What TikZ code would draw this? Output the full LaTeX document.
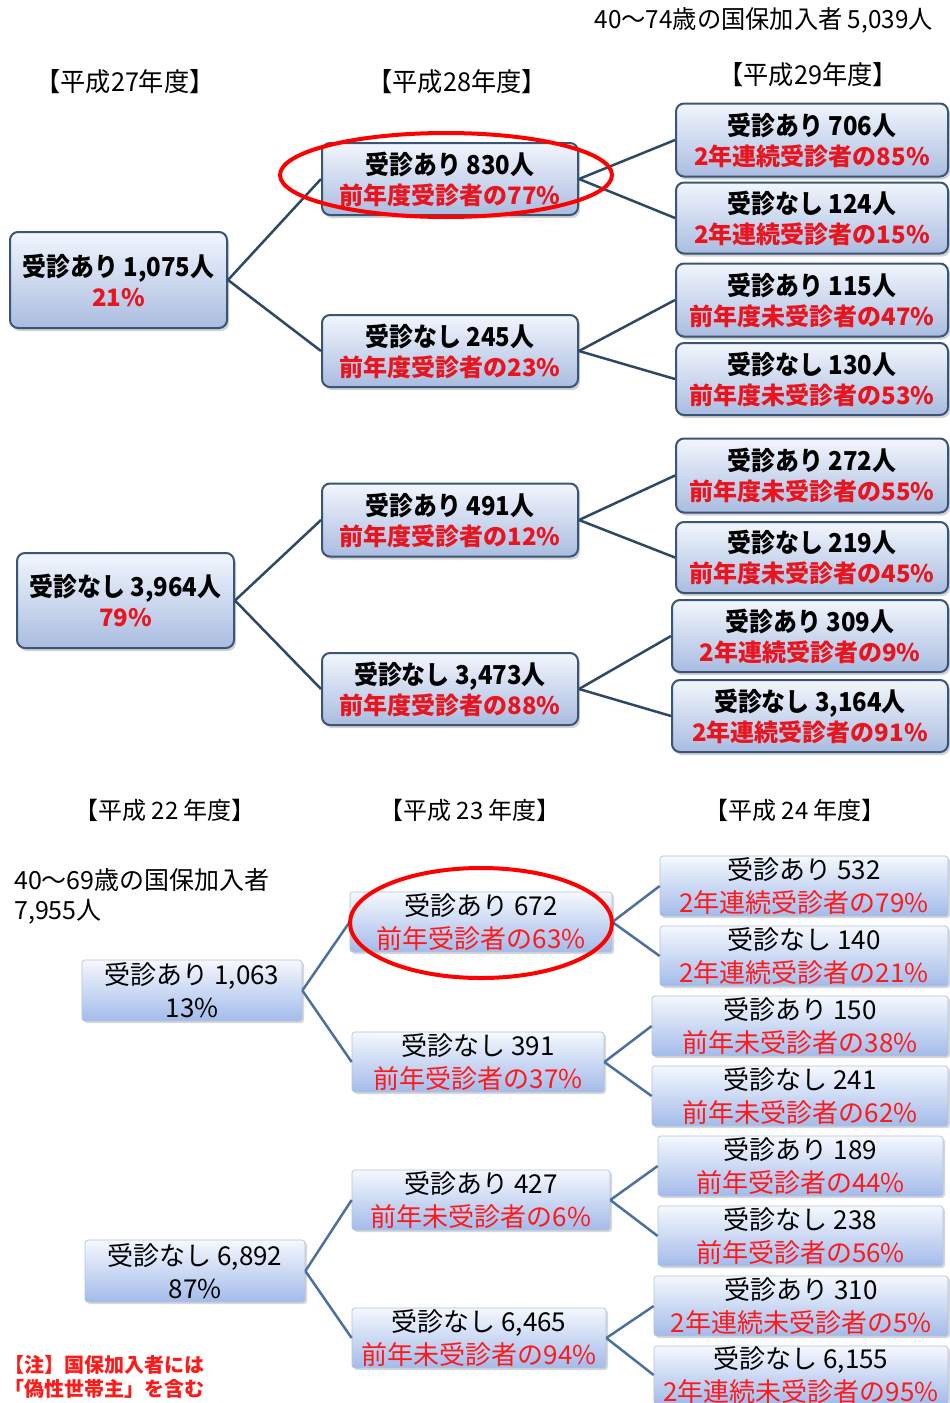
\documentclass[tikz,border=0pt]{standalone}
\usepackage{fontspec}
\usetikzlibrary{shadows}
\newfontfamily\jptb[FakeStretch=0.92]{Noto Sans CJK JP}
\newfontfamily\jptr{Noto Sans CJK JP}
\newfontfamily\jph[FakeStretch=0.97]{Noto Sans CJK JP}
\definecolor{tborder}{HTML}{3A5575}
\definecolor{ttop}{HTML}{F2F6FD}
\definecolor{tbot}{HTML}{A9BCE0}
\definecolor{bborder}{HTML}{B4C3DA}
\definecolor{btop}{HTML}{F5F8FE}
\definecolor{bbot}{HTML}{A3BBEA}
\definecolor{tline}{HTML}{2E4966}
\definecolor{bline}{HTML}{4C70A0}
\definecolor{tred}{HTML}{E8141E}
\definecolor{bred}{HTML}{FF1A1A}
\newcommand{\tr}[1]{\textcolor{tred}{\jptr\bfseries\fontsize{24}{30}\selectfont #1}}
\newcommand{\br}[1]{\textcolor{bred}{#1}}
\tikzset{
  tbox/.style={draw=tborder, line width=2pt, rounded corners=8pt,
    top color=ttop, bottom color=tbot, inner sep=0pt, align=center,
    drop shadow={opacity=0.35, shadow xshift=2pt, shadow yshift=-3pt},
    font=\jptb\bfseries\fontsize{26}{30}\selectfont},
  bbox/.style={draw=bborder, line width=0.7pt, rounded corners=3pt,
    top color=btop, bottom color=bbot, inner sep=0pt, align=center,
    drop shadow={opacity=0.3, shadow xshift=2pt, shadow yshift=-2pt},
    font=\jptr\fontsize{26}{33}\selectfont},
  tcon/.style={draw=tline, line width=2.5pt},
  bcon/.style={draw=bline, line width=2.5pt},
  hilite/.style={draw=red, line width=4pt},
  theader/.style={font=\jph\fontsize{26}{28}\selectfont, inner sep=0pt},
  bheader/.style={font=\jptr\fontsize{24}{26}\selectfont, inner sep=0pt},
  btitle/.style={font=\jptr\fontsize{25}{28}\selectfont, inner sep=0pt},
}
\begin{document}
\begin{tikzpicture}[x=1pt, y=-1pt]
\useasboundingbox[fill=white] (0,0) rectangle (950,1403);

% ---------- top diagram ----------
\node[theader, anchor=east, font=\jph\fontsize{25}{28}\selectfont] (ttitle) at (933,20) {40〜74歳の国保加入者 5,039人};
\node[theader] (h27) at (125,82) {【平成27年度】};
\node[theader] (h28) at (457,82) {【平成28年度】};
\node[theader] (h29) at (808,75) {【平成29年度】};

\node[tbox, minimum width=217pt, minimum height=96pt] (a1) at (118.5,280) {受診あり 1,075人\\\tr{21\%}};
\node[tbox, minimum width=256pt, minimum height=72pt] (b1) at (450,179) {受診あり 830人\\\tr{前年度受診者の77\%}};
\node[tbox, minimum width=256pt, minimum height=72pt] (b2) at (450,351) {受診なし 245人\\\tr{前年度受診者の23\%}};
\node[tbox, minimum width=272pt, minimum height=73pt] (c1) at (812,140) {受診あり 706人\\\tr{2年連続受診者の85\%}};
\node[tbox, minimum width=272pt, minimum height=71pt] (c2) at (812,218) {受診なし 124人\\\tr{2年連続受診者の15\%}};
\node[tbox, minimum width=272pt, minimum height=73pt] (c3) at (812,300) {受診あり 115人\\\tr{前年度未受診者の47\%}};
\node[tbox, minimum width=272pt, minimum height=72pt] (c4) at (812,379) {受診なし 130人\\\tr{前年度未受診者の53\%}};

\node[tbox, minimum width=217pt, minimum height=95pt] (a2) at (125.5,600.5) {受診なし 3,964人\\\tr{79\%}};
\node[tbox, minimum width=256pt, minimum height=73pt] (b3) at (450,520) {受診あり 491人\\\tr{前年度受診者の12\%}};
\node[tbox, minimum width=256pt, minimum height=72pt] (b4) at (450,689) {受診なし 3,473人\\\tr{前年度受診者の88\%}};
\node[tbox, minimum width=272pt, minimum height=74pt] (c5) at (812,475.5) {受診あり 272人\\\tr{前年度未受診者の55\%}};
\node[tbox, minimum width=272pt, minimum height=71pt] (c6) at (812,557.5) {受診なし 219人\\\tr{前年度未受診者の45\%}};
\node[tbox, minimum width=276pt, minimum height=72pt] (c7) at (810,636) {受診あり 309人\\\tr{2年連続受診者の9\%}};
\node[tbox, minimum width=276pt, minimum height=72pt] (c8) at (810,716) {受診なし 3,164人\\\tr{2年連続受診者の91\%}};

\draw[tcon] (a1.east) -- (b1.west);
\draw[tcon] (a1.east) -- (b2.west);
\draw[tcon] (b1.east) -- (c1.west);
\draw[tcon] (b1.east) -- (c2.west);
\draw[tcon] (b2.east) -- (c3.west);
\draw[tcon] (b2.east) -- (c4.west);
\draw[tcon] (a2.east) -- (b3.west);
\draw[tcon] (a2.east) -- (b4.west);
\draw[tcon] (b3.east) -- (c5.west);
\draw[tcon] (b3.east) -- (c6.west);
\draw[tcon] (b4.east) -- (c7.west);
\draw[tcon] (b4.east) -- (c8.west);

\draw[hilite] (446,175) ellipse [x radius=166, y radius=42];

% ---------- bottom diagram ----------
\node[bheader] (h22) at (165,810) {【平成 22 年度】};
\node[bheader] (h23) at (470,810) {【平成 23 年度】};
\node[bheader] (h24) at (795,810) {【平成 24 年度】};
\node[btitle, anchor=west] (btitle1) at (14,880) {40〜69歳の国保加入者};
\node[btitle, anchor=west] (btitle2) at (14,912) {7,955人};

\node[bbox, minimum width=220pt, minimum height=61pt] (d1) at (192,990.5) {受診あり 1,063\\13\%};
\node[bbox, minimum width=262pt, minimum height=60pt] (e1) at (481,922) {受診あり 672\\\br{前年受診者の63\%}};
\node[bbox, minimum width=252pt, minimum height=60pt] (e2) at (478,1062) {受診なし 391\\\br{前年受診者の37\%}};
\node[bbox, minimum width=288pt, minimum height=60pt] (f1) at (804,886) {受診あり 532\\\br{2年連続受診者の79\%}};
\node[bbox, minimum width=288pt, minimum height=60pt] (f2) at (804,956) {受診なし 140\\\br{2年連続受診者の21\%}};
\node[bbox, minimum width=296pt, minimum height=60pt] (f3) at (800,1026) {受診あり 150\\\br{前年未受診者の38\%}};
\node[bbox, minimum width=296pt, minimum height=60pt] (f4) at (800,1096) {受診なし 241\\\br{前年未受診者の62\%}};

\node[bbox, minimum width=220pt, minimum height=62pt] (d2) at (195,1271) {受診なし 6,892\\87\%};
\node[bbox, minimum width=258pt, minimum height=60pt] (e3) at (481,1200) {受診あり 427\\\br{前年未受診者の6\%}};
\node[bbox, minimum width=254pt, minimum height=60pt] (e4) at (479,1338) {受診なし 6,465\\\br{前年未受診者の94\%}};
\node[bbox, minimum width=285pt, minimum height=60pt] (f5) at (800.5,1166) {受診あり 189\\\br{前年受診者の44\%}};
\node[bbox, minimum width=285pt, minimum height=60pt] (f6) at (800.5,1236) {受診なし 238\\\br{前年受診者の56\%}};
\node[bbox, minimum width=294pt, minimum height=60pt] (f7) at (801,1306) {受診あり 310\\\br{2年連続未受診者の5\%}};
\node[bbox, minimum width=294pt, minimum height=58pt] (f8) at (801,1375) {受診なし 6,155\\\br{2年連続未受診者の95\%}};

\draw[bcon] (d1.east) -- (e1.west);
\draw[bcon] (d1.east) -- (e2.west);
\draw[bcon] (e1.east) -- (f1.west);
\draw[bcon] (e1.east) -- (f2.west);
\draw[bcon] (e2.east) -- (f3.west);
\draw[bcon] (e2.east) -- (f4.west);
\draw[bcon] (d2.east) -- (e3.west);
\draw[bcon] (d2.east) -- (e4.west);
\draw[bcon] (e3.east) -- (f5.west);
\draw[bcon] (e3.east) -- (f6.west);
\draw[bcon] (e4.east) -- (f7.west);
\draw[bcon] (e4.east) -- (f8.west);

\draw[hilite] (481,923) ellipse [x radius=131, y radius=55];

\node[anchor=west, inner sep=0pt, text=bred, font=\jptr\bfseries\fontsize{20}{24}\selectfont, align=left] (note) at (4,1377) {【注】国保加入者には\\「偽性世帯主」を含む};
\end{tikzpicture}
\end{document}
